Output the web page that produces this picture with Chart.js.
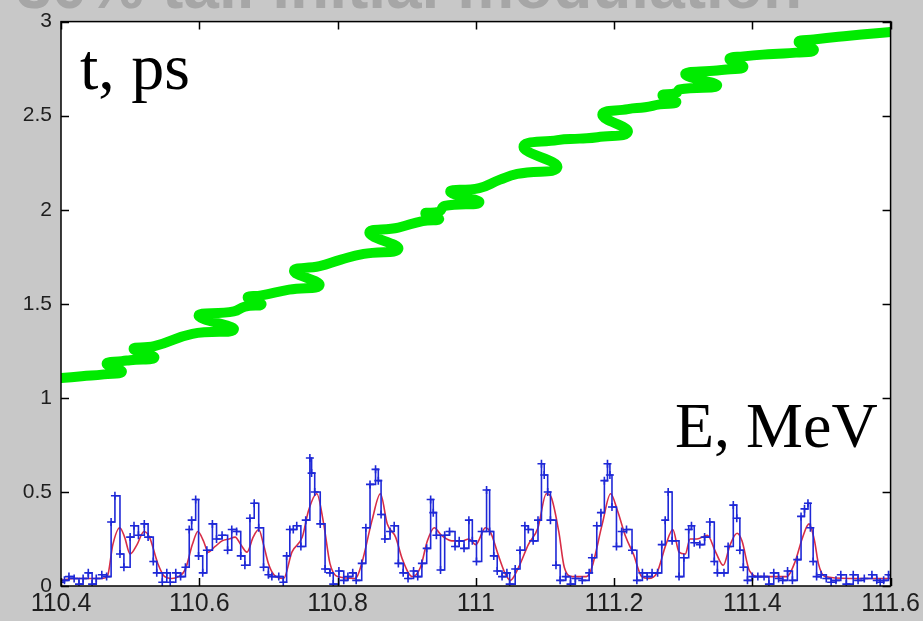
<!DOCTYPE html>
<html>
<head>
<meta charset="utf-8">
<script src="https://cdn.jsdelivr.net/npm/chart.js@4.4.1/dist/chart.umd.min.js"></script>
<style>
  html, body { margin: 0; padding: 0; background: #c8c8c8; }
  #wrap { width: 923px; height: 621px; }
</style>
</head>
<body>
<div id="wrap"><canvas id="plot" width="923" height="621"></canvas></div>
<script>
// axis ticks
var xTicks = [110.4, 110.6, 110.8, 111, 111.2, 111.4, 111.6];
var yTicks = [0, 0.5, 1, 1.5, 2, 2.5, 3];

// energy spectrum, raw (blue stairs with + markers)
var eX = [110.400, 110.405, 110.4115, 110.419, 110.426, 110.432, 110.4395, 110.445, 110.451, 110.459,
  110.466, 110.4725, 110.478, 110.4853, 110.491, 110.500, 110.5056, 110.512, 110.5205, 110.526,
  110.5335, 110.5385, 110.5465, 110.553, 110.558, 110.566, 110.573, 110.580, 110.5855, 110.589,
  110.5948, 110.599, 110.605, 110.611, 110.619, 110.625, 110.633, 110.641, 110.647, 110.654,
  110.660, 110.666, 110.6733, 110.6795, 110.686, 110.693, 110.700, 110.705, 110.715, 110.7215,
  110.7264, 110.731, 110.736, 110.741, 110.747, 110.754, 110.760, 110.7625, 110.767, 110.775,
  110.782, 110.789, 110.7938, 110.802, 110.809, 110.815, 110.822, 110.827, 110.835, 110.841,
  110.847, 110.855, 110.859, 110.863, 110.8685, 110.876, 110.882, 110.888, 110.895, 110.902,
  110.910, 110.916, 110.922, 110.929, 110.9347, 110.9385, 110.943, 110.949, 110.955, 110.962,
  110.970, 110.976, 110.983, 110.990, 110.995, 111.001, 111.0085, 111.0156, 111.020, 111.026,
  111.031, 111.038, 111.045, 111.049, 111.057, 111.064, 111.071, 111.076, 111.083, 111.090,
  111.095, 111.099, 111.104, 111.108, 111.116, 111.122, 111.130, 111.137, 111.144, 111.154,
  111.164, 111.168, 111.175, 111.181, 111.186, 111.1905, 111.194, 111.197, 111.2035, 111.211,
  111.218, 111.226, 111.233, 111.241, 111.248, 111.255, 111.263, 111.269, 111.274, 111.2783,
  111.284, 111.294, 111.301, 111.308, 111.312, 111.316, 111.324, 111.331, 111.3385, 111.345,
  111.3495, 111.359, 111.365, 111.3725, 111.3775, 111.382, 111.387, 111.393, 111.400, 111.408,
  111.417, 111.424, 111.431, 111.438, 111.444, 111.451, 111.458, 111.465, 111.4705, 111.4755,
  111.4805, 111.484, 111.488, 111.493, 111.4995, 111.507, 111.514, 111.521, 111.528, 111.536,
  111.546, 111.553, 111.562, 111.573, 111.580, 111.585, 111.590, 111.597, 111.600];
var eRaw = [0.02, 0.03, 0.05, 0.04, 0.01, 0.04, 0.07, 0.01, 0.04, 0.06,
  0.05, 0.34, 0.48, 0.17, 0.10, 0.26, 0.32, 0.27, 0.33, 0.26,
  0.13, 0.07, 0.02, 0.07, 0.02, 0.07, 0.05, 0.10, 0.30, 0.35,
  0.46, 0.16, 0.07, 0.19, 0.33, 0.25, 0.27, 0.19, 0.30, 0.29,
  0.16, 0.11, 0.36, 0.44, 0.31, 0.10, 0.06, 0.05, 0.05, 0.02,
  0.16, 0.30, 0.30, 0.32, 0.21, 0.35, 0.68, 0.60, 0.50, 0.33,
  0.09, 0.07, 0.01, 0.08, 0.03, 0.05, 0.07, 0.03, 0.12, 0.31,
  0.54, 0.62, 0.56, 0.38, 0.25, 0.29, 0.32, 0.12, 0.07, 0.04,
  0.08, 0.05, 0.12, 0.20, 0.46, 0.39, 0.27, 0.085, 0.27, 0.29,
  0.21, 0.24, 0.20, 0.35, 0.24, 0.13, 0.29, 0.51, 0.29, 0.16,
  0.08, 0.05, 0.07, 0.01, 0.09, 0.19, 0.32, 0.30, 0.24, 0.35,
  0.65, 0.59, 0.50, 0.35, 0.11, 0.03, 0.05, 0.01, 0.04, 0.03,
  0.07, 0.15, 0.32, 0.39, 0.56, 0.65, 0.59, 0.42, 0.21, 0.29,
  0.30, 0.19, 0.03, 0.07, 0.05, 0.07, 0.07, 0.22, 0.35, 0.50,
  0.24, 0.05, 0.15, 0.30, 0.32, 0.23, 0.22, 0.26, 0.34, 0.13,
  0.07, 0.07, 0.21, 0.43, 0.36, 0.19, 0.10, 0.03, 0.05, 0.05,
  0.05, 0.01, 0.07, 0.04, 0.03, 0.08, 0.03, 0.14, 0.37, 0.41,
  0.44, 0.31, 0.13, 0.05, 0.06, 0.04, 0.02, 0.03, 0.06, 0.01,
  0.06, 0.03, 0.04, 0.06, 0.03, 0.02, 0.03, 0.06, 0.06];

// energy spectrum, smoothed (red)
var sX = [110.400, 110.420, 110.440, 110.460, 110.467, 110.475, 110.485, 110.492, 110.500, 110.510,
  110.520, 110.528, 110.540, 110.550, 110.560, 110.570, 110.580, 110.590, 110.598, 110.606,
  110.613, 110.623, 110.633, 110.643, 110.652, 110.660, 110.669, 110.678, 110.686, 110.693,
  110.700, 110.708, 110.722, 110.734, 110.749, 110.758, 110.770, 110.780, 110.789, 110.800,
  110.826, 110.835, 110.850, 110.862, 110.872, 110.884, 110.894, 110.908, 110.920, 110.930,
  110.940, 110.950, 110.965, 110.980, 110.990, 111.000, 111.014, 111.022, 111.032, 111.042,
  111.050, 111.062, 111.076, 111.090, 111.102, 111.108, 111.120, 111.128, 111.140, 111.160,
  111.168, 111.183, 111.195, 111.205, 111.217, 111.228, 111.240, 111.250, 111.262, 111.275,
  111.285, 111.294, 111.303, 111.310, 111.320, 111.335, 111.347, 111.358, 111.368, 111.378,
  111.385, 111.396, 111.410, 111.450, 111.462, 111.472, 111.482, 111.490, 111.4955, 111.505,
  111.540, 111.580, 111.600];
var eSmooth = [0.03, 0.04, 0.04, 0.04, 0.05, 0.22, 0.31, 0.26, 0.17, 0.22,
  0.29, 0.26, 0.12, 0.05, 0.04, 0.05, 0.09, 0.22, 0.29, 0.24,
  0.18, 0.21, 0.24, 0.25, 0.26, 0.22, 0.18, 0.26, 0.30, 0.22,
  0.12, 0.06, 0.04, 0.18, 0.26, 0.40, 0.49, 0.33, 0.12, 0.05,
  0.04, 0.12, 0.35, 0.49, 0.33, 0.26, 0.14, 0.05, 0.10, 0.24,
  0.31, 0.27, 0.24, 0.24, 0.25, 0.22, 0.31, 0.28, 0.17, 0.07,
  0.03, 0.10, 0.22, 0.31, 0.49, 0.48, 0.29, 0.10, 0.05, 0.05,
  0.10, 0.33, 0.49, 0.40, 0.26, 0.17, 0.05, 0.04, 0.07, 0.22,
  0.30, 0.18, 0.17, 0.25, 0.25, 0.27, 0.18, 0.11, 0.22, 0.28,
  0.24, 0.08, 0.05, 0.05, 0.13, 0.25, 0.33, 0.24, 0.12, 0.05,
  0.04, 0.04, 0.04];

// trajectory: position vs time (green), S-shaped kinks at the bunch peaks
var trajX = [110.400, 110.430,
  110.462, 110.488, 110.466, 110.488,
  110.500, 110.535, 110.505, 110.535,
  110.590, 110.650, 110.599, 110.650,
  110.666, 110.690, 110.670, 110.690,
  110.730, 110.774, 110.737, 110.774, 110.805,
  110.838, 110.888, 110.846, 110.888,
  110.923, 110.947, 110.927, 110.947,
  110.955, 111.005, 110.963, 111.005, 111.035,
  111.060, 111.118, 111.069, 111.118, 111.150,
  111.176, 111.220, 111.183, 111.220, 111.245,
  111.266, 111.290, 111.270, 111.290,
  111.295, 111.349, 111.303, 111.349,
  111.363, 111.387, 111.367, 111.387, 111.430,
  111.463, 111.489, 111.467, 111.489, 111.540, 111.600];
var trajT = [1.105, 1.115,
  1.125, 1.139, 1.181, 1.195,
  1.200, 1.215, 1.260, 1.275,
  1.340, 1.364, 1.436, 1.460,
  1.485, 1.497, 1.533, 1.545,
  1.575, 1.600, 1.675, 1.700, 1.735,
  1.765, 1.793, 1.877, 1.905,
  1.940, 1.950, 1.980, 1.990,
  2.020, 2.039, 2.096, 2.115, 2.160,
  2.190, 2.226, 2.334, 2.370, 2.378,
  2.385, 2.415, 2.505, 2.535, 2.545,
  2.560, 2.572, 2.608, 2.620,
  2.640, 2.660, 2.720, 2.740,
  2.745, 2.759, 2.801, 2.815, 2.828,
  2.835, 2.849, 2.891, 2.905, 2.925, 2.945];

function pairs(xs, ys) {
  return xs.map(function (x, i) { return { x: x, y: ys[i] }; });
}

// gray figure, white axes box, faded slide title at the very top
var backdrop = {
  id: 'backdrop',
  beforeDraw: function (chart) {
    var ctx = chart.ctx, a = chart.chartArea;
    ctx.save();
    ctx.fillStyle = '#c8c8c8';
    ctx.fillRect(0, 0, chart.width, chart.height);
    ctx.fillStyle = '#ffffff';
    ctx.fillRect(a.left, a.top, a.right - a.left, a.bottom - a.top);
    ctx.fillStyle = '#a6a6a6';
    ctx.font = 'bold 64px "Liberation Sans", Arial, sans-serif';
    ctx.textAlign = 'right';
    ctx.textBaseline = 'alphabetic';
    ctx.fillText('30% tail initial modulation', 802, 8);
    ctx.restore();
  }
};

// box with inward ticks on all four sides, plus the two axis captions
var frame = {
  id: 'frame',
  afterDraw: function (chart) {
    var ctx = chart.ctx, a = chart.chartArea;
    var xs = chart.scales.x, ys = chart.scales.y;
    var len = 8;
    ctx.save();
    ctx.strokeStyle = '#000';
    ctx.lineWidth = 1.5;
    ctx.beginPath();
    xTicks.forEach(function (v) {
      var px = Math.round(xs.getPixelForValue(v)) + 0.5;
      ctx.moveTo(px, a.bottom); ctx.lineTo(px, a.bottom - len);
      ctx.moveTo(px, a.top); ctx.lineTo(px, a.top + len);
    });
    yTicks.forEach(function (v) {
      var py = Math.round(ys.getPixelForValue(v)) + 0.5;
      ctx.moveTo(a.left, py); ctx.lineTo(a.left + len, py);
      ctx.moveTo(a.right, py); ctx.lineTo(a.right - len, py);
    });
    ctx.stroke();
    ctx.strokeRect(a.left, a.top, a.right - a.left, a.bottom - a.top);

    ctx.fillStyle = '#000';
    ctx.font = '66px "Liberation Serif", "Times New Roman", serif';
    ctx.textAlign = 'left';
    ctx.textBaseline = 'alphabetic';
    ctx.fillText('t, ps', 80, 89);
    ctx.font = '64px "Liberation Serif", "Times New Roman", serif';
    ctx.fillText('E, MeV', 675, 447);
    ctx.restore();
  }
};

var ctx = document.getElementById('plot').getContext('2d');
var chart = new Chart(ctx, {
  type: 'scatter',
  data: {
    datasets: [{
      label: 'trajectory',
      data: pairs(trajX, trajT),
      showLine: true,
      borderColor: 'rgb(0, 235, 0)',
      borderWidth: 10,
      borderCapStyle: 'round',
      borderJoinStyle: 'round',
      tension: 0.5,
      pointRadius: 0
    }, {
      label: 'E raw',
      data: pairs(eX, eRaw),
      showLine: true,
      stepped: true,
      borderColor: 'rgb(30, 40, 215)',
      borderWidth: 1.6,
      pointStyle: 'cross',
      pointRadius: 4,
      pointBorderWidth: 1.6,
      pointBorderColor: 'rgb(30, 40, 215)',
      pointBackgroundColor: 'rgb(30, 40, 215)'
    }, {
      label: 'E smoothed',
      data: pairs(sX, eSmooth),
      showLine: true,
      borderColor: 'rgb(215, 45, 70)',
      borderWidth: 1.6,
      cubicInterpolationMode: 'monotone',
      pointRadius: 0
    }]
  },
  options: {
    responsive: false,
    animation: false,
    events: [],
    layout: { padding: { left: 0, top: 14, right: 31, bottom: 0 } },
    plugins: {
      legend: { display: false },
      tooltip: { enabled: false }
    },
    scales: {
      x: {
        type: 'linear',
        min: 110.4,
        max: 111.6,
        afterFit: function (s) { s.height = 35; },
        afterBuildTicks: function (s) { s.ticks = xTicks.map(function (v) { return { value: v }; }); },
        grid: { display: false, drawTicks: false },
        border: { display: false },
        ticks: {
          padding: 3,
          color: '#1e1e1e',
          font: { family: '"Liberation Sans", Arial, sans-serif', size: 25 },
          maxRotation: 0,
          callback: function (v) { return String(Math.round(v * 10) / 10); }
        }
      },
      y: {
        type: 'linear',
        min: 0,
        max: 3,
        afterFit: function (s) { s.width = 61; },
        afterBuildTicks: function (s) { s.ticks = yTicks.map(function (v) { return { value: v }; }); },
        grid: { display: false, drawTicks: false },
        border: { display: false },
        ticks: {
          padding: 9,
          color: '#1e1e1e',
          font: { family: '"Liberation Sans", Arial, sans-serif', size: 21 },
          callback: function (v) { return String(Math.round(v * 10) / 10); }
        }
      }
    }
  },
  plugins: [backdrop, frame]
});
</script>
</body>
</html>
